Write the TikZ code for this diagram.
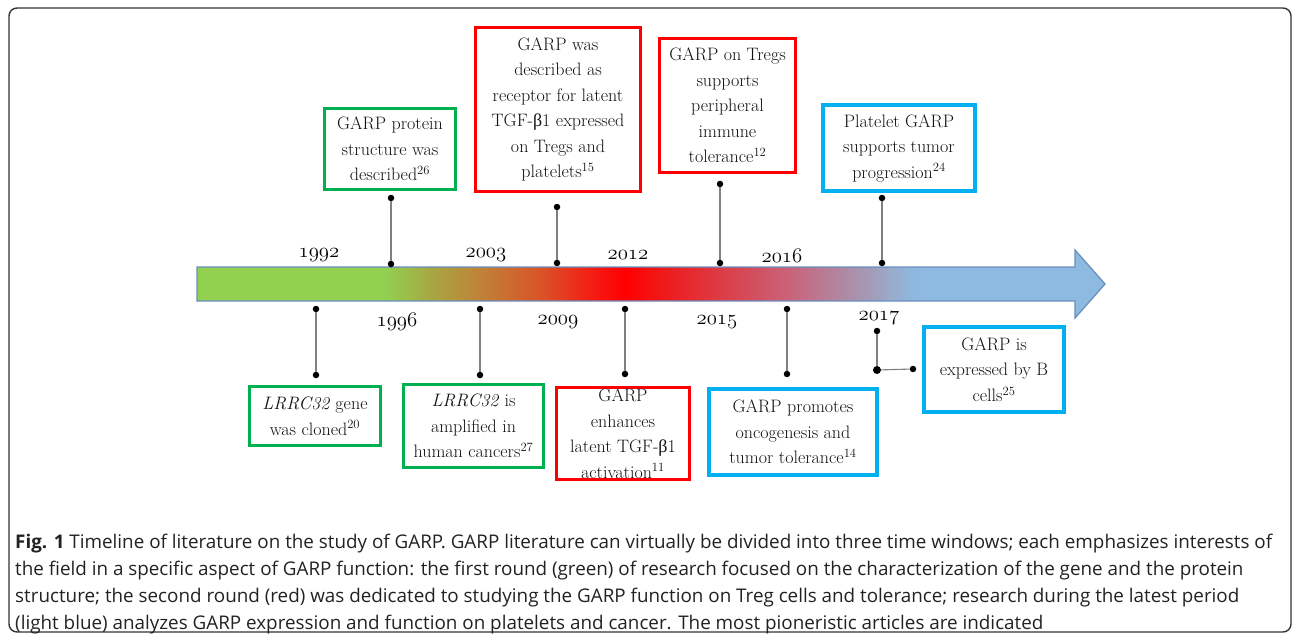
\documentclass[tikz,border=0pt]{standalone}
\usepackage{fontspec}
\newfontfamily\capfont{Open Sans}
\newfontfamily\grkfont{Liberation Serif}
\usetikzlibrary{calc}
\definecolor{gboxc}{HTML}{00B050}
\definecolor{rboxc}{HTML}{FF0000}
\definecolor{bboxc}{HTML}{00B0F0}
\definecolor{stemgray}{HTML}{808080}
\definecolor{arrline}{HTML}{6A8FC0}
\definecolor{txtc}{HTML}{111111}
\definecolor{captc}{HTML}{222222}
\definecolor{gA}{HTML}{92D050}
\definecolor{gB}{HTML}{A7A843}
\definecolor{gC}{HTML}{BF8238}
\definecolor{gD}{HTML}{D95428}
\definecolor{gE}{HTML}{F81410}
\definecolor{gF}{HTML}{FF0000}
\definecolor{gG}{HTML}{F01818}
\definecolor{gH}{HTML}{DC3C46}
\definecolor{gI}{HTML}{C8647A}
\definecolor{gJ}{HTML}{AC8EA8}
\definecolor{gK}{HTML}{9AAACB}
\definecolor{gL}{HTML}{8EB9E0}
\newcommand\boxfont{\fontsize{18}{25.5}\selectfont}
\newcommand\yearfont{\fontsize{22.5}{23}\selectfont}
\newcommand\yr[1]{\ensuremath{\mathnormal{#1}}}
\newcommand\bet{{\grkfont β}}
\newlength\capw
\settowidth\capw{\capfont\fontsize{18}{20}\selectfont\textbf{Fig. 1} Timeline of literature on the study of GARP. GARP literature can virtually be divided into three time windows; each emphasizes interests of}
\pgfmathsetmacro\capsz{18*(1257/\capw)}
\tikzset{
  evbox/.style={draw, line width=3pt, fill=white, align=center, inner sep=0pt, font=\boxfont, text=txtc},
  gbox/.style={evbox, draw=gboxc},
  rbox/.style={evbox, draw=rboxc},
  bbox/.style={evbox, draw=bboxc, line width=4pt},
  yearlbl/.style={font=\yearfont, text=black, inner sep=0pt},
  stem/.style={draw=stemgray, line width=1.1pt},
  dotc/.style={circle, fill=black, inner sep=0pt, minimum size=6.5pt},
  bigdot/.style={circle, fill=black, inner sep=0pt, minimum size=8pt},
}
\begin{document}
\begin{tikzpicture}[x=1pt,y=-1pt]
\useasboundingbox (0,0) rectangle (1293,634);
% frame
\draw[rounded corners=8pt, line width=1.4pt, draw=black!80] (9,8) rectangle (1291,632);

% timeline arrow with gradient
\begin{scope}
  \clip (197,267) -- (1075,267) -- (1075,250) -- (1105,284) -- (1075,318) -- (1075,301) -- (197,301) -- cycle;
  \fill[gA] (196,249) rectangle (385.5,319);
  \shade[left color=gA, right color=gB] (385,249) rectangle (430.5,319);
  \shade[left color=gB, right color=gC] (430,249) rectangle (480.5,319);
  \shade[left color=gC, right color=gD] (480,249) rectangle (540.5,319);
  \shade[left color=gD, right color=gE] (540,249) rectangle (600.5,319);
  \shade[left color=gE, right color=gF] (600,249) rectangle (625.5,319);
  \shade[left color=gF, right color=gG] (625,249) rectangle (660.5,319);
  \shade[left color=gG, right color=gH] (660,249) rectangle (720.5,319);
  \shade[left color=gH, right color=gI] (720,249) rectangle (790.5,319);
  \shade[left color=gI, right color=gJ] (790,249) rectangle (850.5,319);
  \shade[left color=gJ, right color=gK] (850,249) rectangle (890.5,319);
  \shade[left color=gK, right color=gL] (890,249) rectangle (915.5,319);
  \fill[gL] (915,249) rectangle (1107,319);
\end{scope}
\draw[arrline, line width=1.3pt, line join=miter]
  (197,267) -- (1075,267) -- (1075,250) -- (1105,284) -- (1075,318) -- (1075,301) -- (197,301) -- cycle;

% years
\node[yearlbl] (y1992) at (319,255) {\yr{1992}};
\node[yearlbl] (y2003) at (486,255) {\yr{2003}};
\node[yearlbl] (y2012) at (628,255) {\yr{2012}};
\node[yearlbl] (y2016) at (782,256) {\yr{2016}};
\node[yearlbl] (y1996) at (397,322) {\yr{1996}};
\node[yearlbl] (y2009) at (558,322) {\yr{2009}};
\node[yearlbl] (y2015) at (717,322) {\yr{2015}};
\node[yearlbl] (y2017) at (879,318) {\yr{2017}};

% boxes above
\node[gbox, minimum width=131pt, minimum height=81pt] (b1) at (390,149)
  {GARP protein\\structure was\\described\textsuperscript{26}};
\node[rbox, minimum width=165pt, minimum height=164pt] (b2) at (558,109.5)
  {GARP was\\described as\\receptor for latent\\TGF-\bet1 expressed\\on Tregs and\\platelets\textsuperscript{15}};
\node[rbox, minimum width=136pt, minimum height=134pt] (b3) at (727.5,105.5)
  {GARP on Tregs\\supports\\peripheral\\immune\\tolerance\textsuperscript{12}};
\node[bbox, minimum width=152pt, minimum height=86pt] (b4) at (899,148)
  {Platelet GARP\\supports tumor\\progression\textsuperscript{24}};

% boxes below
\node[gbox, minimum width=131pt, minimum height=59pt] (b5) at (315,416)
  {\textit{LRRC32} gene\\was cloned\textsuperscript{20}};
\node[gbox, minimum width=140pt, minimum height=83pt] (b6) at (473.5,426)
  {\textit{LRRC32} is\\amplified in\\human cancers\textsuperscript{27}};
\node[rbox, minimum width=133pt, minimum height=92pt] (b7) at (623,433.5)
  {GARP\\enhances\\latent TGF-\bet1\\activation\textsuperscript{11}};
\node[bbox, minimum width=168pt, minimum height=86pt] (b8) at (793,432)
  {GARP promotes\\oncogenesis and\\tumor tolerance\textsuperscript{14}};
\node[bbox, minimum width=140pt, minimum height=85pt] (b9) at (994,369.5)
  {GARP is\\expressed by B\\cells\textsuperscript{25}};

% dots
\node[dotc] (d1t) at (391,198) {};
\node[dotc] (d1b) at (391,264) {};
\node[dotc] (d2t) at (557,207) {};
\node[dotc] (d2b) at (557,263) {};
\node[dotc] (d3t) at (720,184) {};
\node[dotc] (d3b) at (720,263) {};
\node[dotc] (d4t) at (882,198) {};
\node[dotc] (d4b) at (882,263) {};
\node[dotc] (d5t) at (316,309) {};
\node[dotc] (d5b) at (316,375) {};
\node[dotc] (d6t) at (480,309) {};
\node[dotc] (d6b) at (480,375) {};
\node[dotc] (d7t) at (625,309) {};
\node[dotc] (d7b) at (625,374) {};
\node[dotc] (d8t) at (787,309) {};
\node[dotc] (d8b) at (787,374) {};
\node[dotc] (d9t) at (877,331) {};
\node[bigdot] (d9c) at (877,370) {};
\node[dotc] (d9e) at (913,369) {};

% stems
\draw[stem] (d1t) -- (d1b);
\draw[stem] (d2t) -- (d2b);
\draw[stem] (d3t) -- (d3b);
\draw[stem] (d4t) -- (d4b);
\draw[stem] (d5t) -- (d5b);
\draw[stem] (d6t) -- (d6b);
\draw[stem] (d7t) -- (d7b);
\draw[stem] (d8t) -- (d8b);
\draw[stem] (d9t) -- (d9c);
\draw[stem] (d9c) -- (d9e);

% caption (base anchor = baseline of the last line)
\node[anchor=base west, align=left, inner sep=0pt, text=captc,
      font=\capfont\fontsize{\capsz}{27}\selectfont] (cap) at (15,629)
  {\textbf{Fig. 1} Timeline of literature on the study of GARP. GARP literature can virtually be divided into three time windows; each emphasizes interests of\\
   the field in a specific aspect of GARP function: the first round (green) of research focused on the characterization of the gene and the protein\\
   structure; the second round (red) was dedicated to studying the GARP function on Treg cells and tolerance; research during the latest period\\
   (light blue) analyzes GARP expression and function on platelets and cancer. The most pioneristic articles are indicated};
\end{tikzpicture}
\end{document}
